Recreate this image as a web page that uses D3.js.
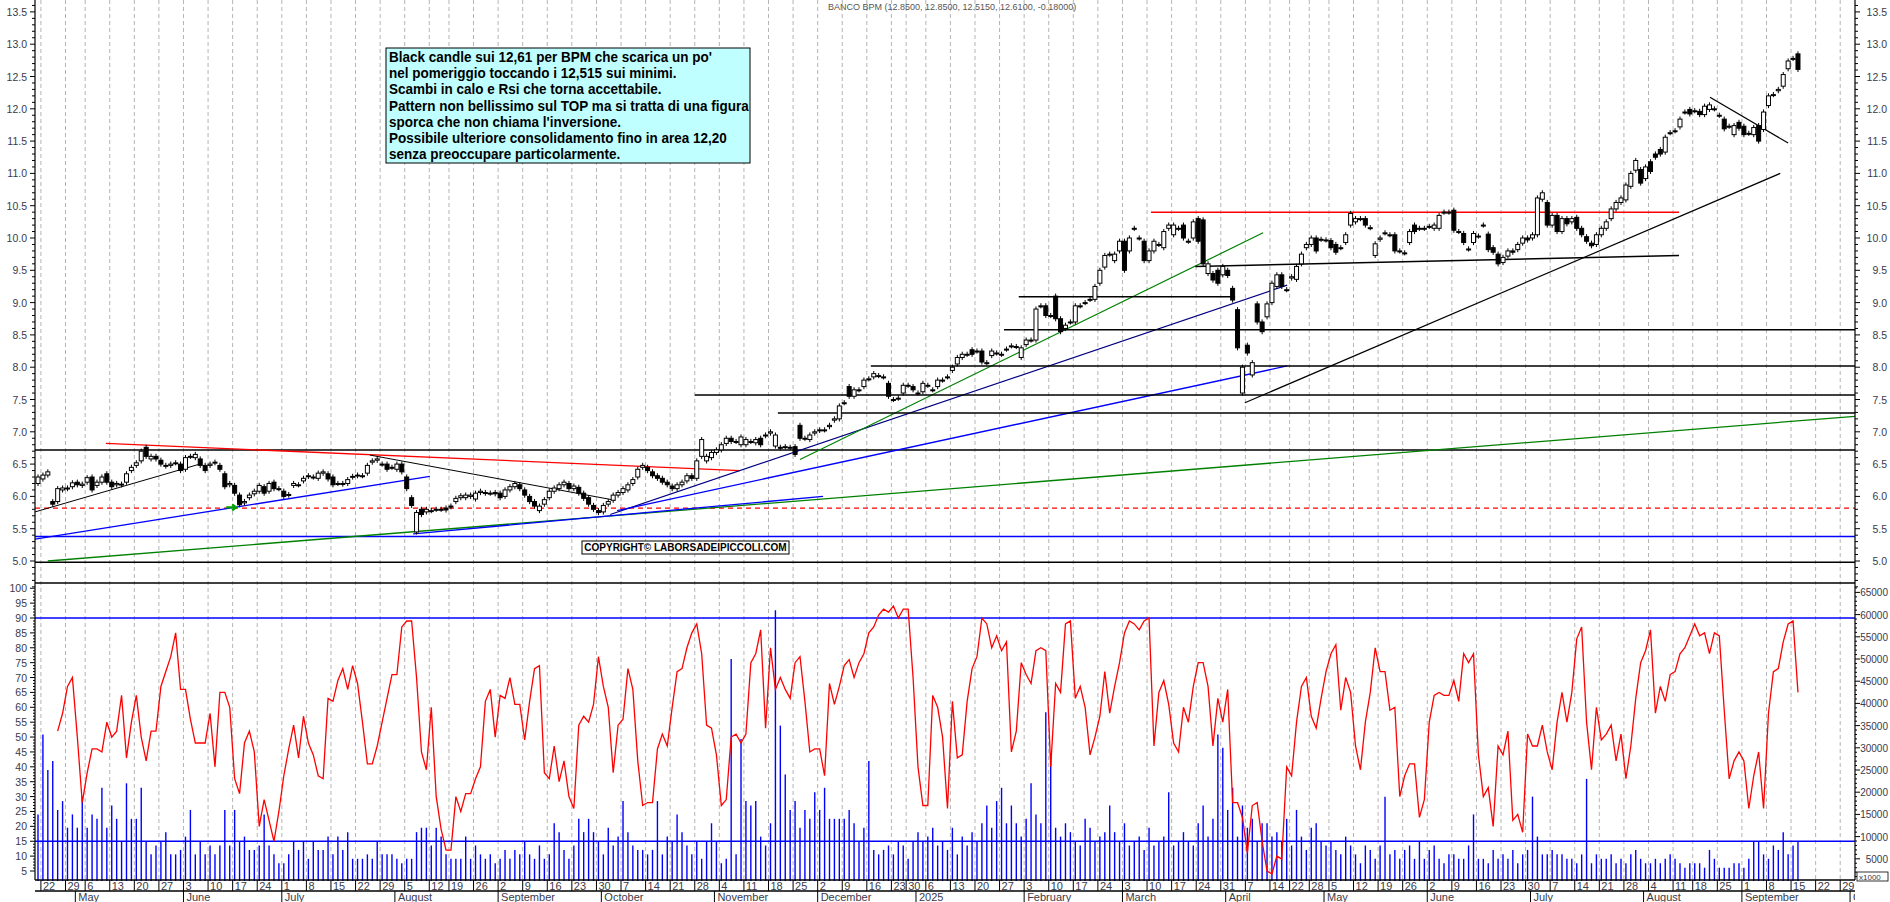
<!DOCTYPE html>
<html><head><meta charset="utf-8">
<script src="https://cdn.jsdelivr.net/npm/d3@7/dist/d3.min.js"></script>
<style>body{margin:0;background:#fff}svg{display:block}</style>
</head><body>
<svg id="c" width="1890" height="902"></svg>
<script>
const title = "BANCO BPM (12.8500, 12.8500, 12.5150, 12.6100, -0.18000)";
const note = ["Black candle sui 12,61 per BPM che scarica un po'",
"nel pomeriggio toccando i 12,515 sui minimi.",
"Scambi in calo e Rsi che torna accettabile.",
"Pattern non bellissimo sul TOP ma si tratta di una figura",
"sporca che non chiama l'inversione.",
"Possibile ulteriore consolidamento fino in area 12,20",
"senza preoccupare particolarmente."];
const copyright = "COPYRIGHT© LABORSADEIPICCOLI.COM";
const lastDate = "2025-09-16";
const holidays = ["2024-05-01","2024-08-15","2024-12-25","2024-12-26","2025-01-01","2025-04-18","2025-04-21","2025-05-01","2025-08-15"];
const monthNames = ["January","February","March","April","May","June","July","August","September","October","November","December"];

const opens = [
6.20,6.27,6.33,5.92,5.92,6.10,6.12,6.15,6.22,6.17,6.22,6.30,6.17,6.22,6.35,6.22,6.18,6.18,6.22,6.40,
6.48,6.55,6.76,6.58,6.62,6.56,6.47,6.48,6.52,6.50,6.42,6.62,6.60,6.58,6.48,6.48,6.52,6.48,6.35,6.18,
6.17,6.02,5.90,5.98,6.04,6.08,6.15,6.08,6.22,6.12,6.08,6.02,6.17,6.18,6.24,6.31,6.30,6.28,6.36,6.35,
6.30,6.20,6.19,6.20,6.30,6.32,6.32,6.36,6.53,6.56,6.50,6.50,6.45,6.42,6.50,6.30,5.98,5.45,5.80,5.76,
5.78,5.80,5.80,5.82,5.85,5.92,5.98,5.98,6.00,5.96,6.06,6.06,6.05,6.06,6.05,
6.00,6.10,6.15,6.18,6.10,6.00,5.92,5.78,5.88,5.98,6.08,6.12,6.18,6.20,6.12,6.14,6.05,5.98,5.86,5.78,
5.76,5.88,5.94,6.02,6.06,6.10,6.20,6.30,6.45,6.45,6.38,6.32,6.28,6.22,6.16,6.12,6.18,6.24,6.32,6.28,
6.62,6.55,6.60,6.68,6.72,6.82,6.90,6.85,
6.80,6.80,6.85,6.83,6.90,6.94,6.98,6.78,6.76,6.77,6.76,6.77,7.10,6.90,6.88,6.98,7.02,7.03,7.08,7.18,
7.20,7.45,7.70,7.55,7.65,7.70,7.82,7.85,7.87,7.85,7.75,7.50,7.52,7.60,7.72,7.70,7.60,7.62,7.72,7.65,
7.70,7.80,7.85,7.95,8.05,8.15,8.20,8.27,8.25,8.25,8.07,8.18,8.22,8.20,8.28,8.33,8.32,8.15,8.35,8.42,
8.42,8.95,8.95,8.80,9.10,8.75,8.60,8.70,8.70,8.95,9.00,9.05,9.05,9.30,9.55,9.75,9.65,9.80,9.95,9.80,
10.15,10.00,9.95,9.65,9.80,9.90,9.85,10.15,10.05,10.15,10.20,9.95,10.00,10.30,10.28,
9.45,9.45,9.50,9.43,9.50,9.22,8.89,7.60,8.34,7.88,8.98,8.70,8.78,9.00,9.25,9.43,9.20,9.38,9.36,9.60,
9.85,9.90,10.00,9.98,9.97,9.96,9.90,9.85,9.93,10.20,10.25,10.30,10.30,10.16,9.73,9.98,10.08,10.05,10.05,9.80,
9.77,9.93,10.20,10.15,10.15,10.18,10.15,10.15,10.40,10.40,10.43,10.10,10.07,9.83,9.93,10.03,10.20,10.06,9.85,9.75,
9.62,9.72,9.80,9.82,9.92,10.00,10.00,10.05,10.60,10.55,10.20,10.35,10.10,10.30,10.25,10.32,10.15,10.02,9.92,9.90,
10.05,10.15,10.30,10.45,10.55,
10.59,10.80,11.05,11.06,10.92,11.18,11.30,11.37,11.33,11.63,11.66,11.72,11.95,11.99,11.97,11.96,11.91,11.99,12.00,11.90,
11.84,11.73,11.60,11.79,11.73,11.62,11.60,11.74,11.68,12.05,12.22,12.28,12.35,12.62,12.78,12.85];

const closes = [
6.30,6.33,6.38,5.88,6.12,6.13,6.13,6.21,6.18,6.19,6.29,6.10,6.22,6.30,6.22,6.15,6.20,6.19,6.35,6.45,
6.52,6.70,6.62,6.62,6.58,6.50,6.48,6.50,6.52,6.40,6.60,6.62,6.65,6.48,6.40,6.50,6.53,6.42,6.15,6.20,
6.05,5.87,5.92,6.02,6.08,6.17,6.05,6.20,6.12,6.12,6.00,6.03,6.20,6.18,6.28,6.32,6.30,6.36,6.38,6.27,
6.18,6.20,6.20,6.26,6.31,6.33,6.32,6.48,6.55,6.58,6.50,6.42,6.45,6.50,6.38,6.12,5.86,5.75,5.72,5.80,
5.78,5.80,5.80,5.79,5.84,5.97,6.01,6.02,6.02,6.05,6.08,6.05,6.05,6.04,5.98,
6.10,6.15,6.20,6.12,6.02,5.92,5.85,5.85,5.95,6.08,6.13,6.18,6.22,6.12,6.16,6.05,5.97,5.88,5.80,5.75,
5.86,5.92,6.02,6.06,6.12,6.18,6.26,6.42,6.48,6.40,6.32,6.28,6.22,6.18,6.12,6.18,6.22,6.32,6.28,6.55,
6.88,6.62,6.68,6.72,6.80,6.90,6.85,6.85,
6.92,6.88,6.85,6.88,6.80,6.95,7.00,6.95,6.75,6.77,6.76,6.65,6.90,6.90,6.95,7.00,7.03,7.03,7.10,7.20,
7.40,7.45,7.55,7.65,7.65,7.80,7.82,7.90,7.87,7.85,7.55,7.50,7.52,7.72,7.72,7.65,7.60,7.75,7.72,7.65,
7.80,7.80,7.85,8.00,8.15,8.20,8.20,8.20,8.25,8.08,8.07,8.25,8.22,8.20,8.28,8.33,8.32,8.30,8.42,8.42,
8.90,8.95,8.80,8.80,8.75,8.55,8.65,8.70,8.95,8.95,9.00,9.05,9.25,9.50,9.73,9.75,9.75,9.95,9.50,10.00,
10.15,10.00,9.65,9.80,9.95,9.90,10.10,10.20,10.20,10.15,10.00,9.95,10.25,9.95,9.60,
9.60,9.35,9.30,9.56,9.42,9.04,8.30,8.00,8.22,8.07,8.70,8.55,8.98,9.30,9.43,9.25,9.20,9.40,9.56,9.75,
9.90,10.00,9.80,9.98,9.97,9.85,9.78,9.85,10.05,10.38,10.30,10.30,10.20,10.16,9.91,10.00,10.08,10.05,9.80,9.80,
9.77,10.10,10.10,10.15,10.15,10.18,10.20,10.35,10.40,10.40,10.12,10.10,9.93,9.83,10.07,10.03,10.20,9.82,9.78,9.60,
9.70,9.80,9.78,9.90,10.00,9.97,10.05,10.62,10.70,10.20,10.35,10.10,10.30,10.22,10.30,10.15,10.05,9.95,9.88,10.05,
10.15,10.25,10.45,10.55,10.62,
10.82,11.00,11.20,10.85,11.10,11.03,11.25,11.30,11.56,11.63,11.66,11.84,11.95,11.92,11.97,11.91,12.04,12.06,12.00,11.90,
11.69,11.73,11.74,11.70,11.60,11.62,11.71,11.50,11.95,12.20,12.22,12.30,12.53,12.74,12.78,12.61];

const rsi = [
52,58,67,70,50,28,38,46,46,45,55,50,52,64,43,55,64,50,42,52,
52,67,72,77,85,66,66,56,48,48,48,58,40,65,65,60,36,31,48,52,
45,20,29,22,15,25,37,46,54,43,57,48,44,37,36,63,62,69,73,66,
74,68,55,41,41,47,55,63,71,71,87,89,89,70,45,39,60,30,19,12,
12,30,25,31,31,36,40,62,66,50,64,63,70,61,61,49,62,73,74,38,
36,47,35,42,30,26,54,57,55,61,77,67,60,38,54,56,73,66,42,27,
28,28,46,51,47,60,72,73,80,85,88,78,54,53,44,27,29,50,51,48,
51,75,78,86,53,80,66,70,66,63,75,77,62,45,46,46,37,68,61,67,
74,76,70,75,78,85,87,91,93,92,94,90,93,93,
70,40,27,27,64,60,50,26,62,43,44,62,73,77,90,88,80,84,79,82,
45,52,75,71,68,79,80,79,40,68,65,88,89,63,67,60,44,50,57,72,
58,67,75,85,89,88,86,89,90,47,65,69,61,48,45,60,55,67,75,75,
67,47,63,55,66,28,28,23,11,27,28,15,5,4,10,9,40,37,55,67,
70,57,53,63,72,78,81,59,70,65,47,39,55,65,80,72,72,59,60,30,
37,41,41,23,29,55,64,65,64,64,69,62,78,75,78,44,30,33,20,47,
44,52,22,24,18,51,47,47,54,45,39,55,65,55,65,83,87,55,39,60,
49,51,54,42,51,36,47,63,75,79,86,58,67,62,71,72,78,80,84,88,
84,85,78,85,84,59,36,42,45,42,26,37,45,26,58,72,73,82,88,89,65];

const volumeK = [
15,33,25,27,16,18,12,15,12,19,12,15,14,21,12,17,14,9,22,14,
14,21,9,6,8,9,11,6,6,7,10,16,6,9,6,8,6,8,16,8,
16,9,10,7,7,8,15,8,6,4,4,6,9,7,9,5,9,7,7,10,
6,10,7,11,5,5,5,6,5,9,6,6,6,5,4,5,5,11,12,12,
8,12,10,6,5,5,5,10,5,8,6,5,6,4,5,7,5,7,6,9,
6,5,8,5,6,13,11,7,5,8,14,11,14,11,9,6,12,8,10,18,
11,8,7,7,6,7,18,6,10,9,15,11,8,6,9,5,9,13,9,4,
5,50,6,32,18,17,18,10,8,13,61,35,24,16,18,12,16,14,20,16,
21,14,14,14,14,16,13,9,12,27,7,6,7,8,6,9,8,5,9,11,
9,10,12,8,9,7,12,6,10,8,11,9,13,17,12,18,21,13,17,13,
10,14,22,15,13,38,28,12,10,13,11,9,8,14,12,9,10,11,17,11,
9,13,8,9,10,7,12,8,9,10,20,8,9,11,9,8,13,17,10,14,
33,30,16,21,10,17,12,14,9,13,13,10,11,9,14,8,16,10,7,12,
13,9,8,9,7,6,10,8,6,4,8,7,5,8,19,6,7,5,7,8,
5,9,5,7,8,5,4,6,6,5,5,8,15,5,5,4,7,5,6,5,
7,4,6,7,19,10,6,6,7,6,6,5,5,4,6,23,4,6,5,5,
6,4,5,4,6,7,5,4,4,5,4,5,6,5,4,3,4,4,4,3,
7,5,3,3,3,4,4,3,5,9,9,6,5,8,7,11,6,8,9];

const fullLines = [[6.72,"#000",1.5,null],[4.98,"#000",1.5,null],[5.38,"#0000ff",1.5,null],[5.82,"#ff0000",1.2,"5,4"]];
const trendLines = [
[13.8,6.82,142.8,6.40,"#ff0000",1.3],
[-0.6,5.76,32.9,6.50,"#000",1],
[-0.6,5.34,79.7,6.31,"#0000ff",1.3],
[67.5,6.64,117.4,5.94,"#000",1],
[2.0,5.0,369.6,7.24,"#008000",1.3],
[76.3,5.42,159.7,6.0,"#0000ff",1.3],
[116.4,5.72,254.1,9.27,"#000080",1.2],
[117.8,5.78,254.1,8.02,"#0000ff",1.4],
[155,6.57,249.2,10.08,"#008000",1.2],
[150.5,7.29,369.6,7.29,"#000",1.5],
[133.6,7.57,369.6,7.57,"#000",1.5],
[169.4,8.02,369.6,8.02,"#000",1.5],
[196.5,8.58,369.6,8.58,"#000",1.5],
[199.5,9.09,243.5,9.09,"#000",1.5],
[235.4,9.56,333.8,9.73,"#000",1.5],
[226.4,10.40,333.8,10.40,"#ff0000",1.5],
[245.5,7.45,354.4,11.0,"#000",1.2],
[340.1,12.18,356,11.47,"#000",1.2]];

const N = closes.length;
const L = 35, R = 1855;
const x = d3.scaleLinear().domain([0, N - 1 + 11.6]).range([38, R]);
const yP = d3.scaleLinear().domain([5, 13]).range([561, 44.2]);
const yO = d3.scaleLinear().domain([90, 5]).range([618, 871]);
const yV = d3.scaleLinear().domain([0, 65000]).range([881, 592.4]);

const hol = new Set(holidays);
const fmt = d3.timeFormat("%Y-%m-%d");
const isTrading = d => d.getDay() > 0 && d.getDay() < 6 && !hol.has(fmt(d));
let days = [];
let d = d3.timeParse("%Y-%m-%d")(lastDate);
while (days.length < N) { if (isTrading(d)) days.unshift(new Date(d)); d = d3.timeDay.offset(d, -1); }
d = d3.timeDay.offset(days[N - 1], 1);
while (days.length < N + 14) { if (isTrading(d)) days.push(new Date(d)); d = d3.timeDay.offset(d, 1); }

const svg = d3.select("#c");
svg.append("defs").append("clipPath").attr("id", "plot").append("rect").attr("x", L).attr("y", 0).attr("width", R - L).attr("height", 902);
svg.append("defs").append("clipPath").attr("id", "price").append("rect").attr("x", L).attr("y", 0).attr("width", R - L).attr("height", 583);
const gAll = svg.append("g").attr("clip-path", "url(#plot)");

const weekIdx = [], monthIdx = [];
days.forEach((dd, i) => {
  if (i === 0) return;
  if (+d3.timeMonday.floor(dd) !== +d3.timeMonday.floor(days[i - 1])) weekIdx.push(i);
  if (dd.getMonth() !== days[i - 1].getMonth()) monthIdx.push(i);
});
const labelFont = "Liberation Sans, Arial, sans-serif";
const axisCol = "#3a3a4a";

gAll.selectAll(".grid").data(weekIdx).join("line")
  .attr("x1", i => x(i) - 2).attr("x2", i => x(i) - 2).attr("y1", 0).attr("y2", 880)
  .attr("stroke", "#b4b4b4").attr("stroke-dasharray", "4,3").attr("stroke-width", 1);

const gp = svg.append("g").attr("clip-path", "url(#price)");
gp.selectAll(".fl").data(fullLines).join("line")
  .attr("x1", L).attr("x2", R).attr("y1", d => yP(d[0])).attr("y2", d => yP(d[0]))
  .attr("stroke", d => d[1]).attr("stroke-width", d => d[2]).attr("stroke-dasharray", d => d[3]);
gp.selectAll(".tl").data(trendLines).join("line")
  .attr("x1", d => x(d[0])).attr("y1", d => yP(d[1])).attr("x2", d => x(d[2])).attr("y2", d => yP(d[3]))
  .attr("stroke", d => d[4]).attr("stroke-width", d => d[5]);
const ai = 39.5, ap = 5.83;
gp.append("path").attr("d", `M${x(ai)-6},${yP(ap)}L${x(ai)+3},${yP(ap)}M${x(ai)},${yP(ap)-3}L${x(ai)+4},${yP(ap)}L${x(ai)},${yP(ap)+3}`)
  .attr("stroke", "#00a000").attr("stroke-width", 2.2).attr("fill", "none");

const candles = gp.selectAll(".cd").data(closes.map((c, i) => ({ i, o: opens[i], c }))).join("g");
candles.append("line").attr("x1", d => x(d.i)).attr("x2", d => x(d.i))
  .attr("y1", d => yP(Math.max(d.o, d.c) + 0.04)).attr("y2", d => yP(Math.min(d.o, d.c) - 0.04))
  .attr("stroke", "#000").attr("stroke-width", 1);
candles.append("rect").attr("x", d => x(d.i) - 2).attr("width", 4)
  .attr("y", d => yP(Math.max(d.o, d.c))).attr("height", d => Math.max(1, Math.abs(yP(d.o) - yP(d.c))))
  .attr("fill", d => d.c < d.o ? "#000" : "#fff").attr("stroke", "#000").attr("stroke-width", 1);

svg.append("line").attr("x1", L).attr("x2", R).attr("y1", 583).attr("y2", 583).attr("stroke", "#000").attr("stroke-width", 1.5);

const vOff = N - volumeK.length;
gAll.selectAll(".vb").data(volumeK).join("line")
  .attr("x1", (v, i) => x(i + vOff)).attr("x2", (v, i) => x(i + vOff))
  .attr("y1", yV(0)).attr("y2", v => yV(v * 1000)).attr("stroke", "#0000ff").attr("stroke-width", 1.4);
[90, 15].forEach(v => gAll.append("line").attr("x1", L).attr("x2", R).attr("y1", yO(v)).attr("y2", yO(v)).attr("stroke", "#0000ff").attr("stroke-width", 1.6));
const rOff = N - rsi.length;
gAll.append("path").datum(rsi).attr("fill", "none").attr("stroke", "#ff0000").attr("stroke-width", 1.3)
  .attr("d", d3.line().x((v, i) => x(i + rOff)).y(v => yO(v)));

[L, R].forEach(xx => svg.append("line").attr("x1", xx).attr("x2", xx).attr("y1", 0).attr("y2", 880).attr("stroke", "#000").attr("stroke-width", 1.2));
svg.append("line").attr("x1", L).attr("x2", R).attr("y1", 880).attr("y2", 880).attr("stroke", "#000").attr("stroke-width", 1.5);
svg.append("line").attr("x1", L).attr("x2", R).attr("y1", 891).attr("y2", 891).attr("stroke", "#000").attr("stroke-width", 1.5);

const pMinor = d3.range(4.6, 13.85, 0.1);
pMinor.forEach(v => {
  const yy = yP(v), major = Math.abs(v * 2 - Math.round(v * 2)) < 1e-6;
  svg.append("line").attr("x1", L - (major ? 5 : 3)).attr("x2", L).attr("y1", yy).attr("y2", yy).attr("stroke", "#000");
  svg.append("line").attr("x1", R).attr("x2", R + (major ? 5 : 3)).attr("y1", yy).attr("y2", yy).attr("stroke", "#000");
});
const pMajor = d3.range(5, 13.51, 0.5);
svg.selectAll(".pl").data(pMajor).join("text").attr("x", 27).attr("y", v => yP(v) + 4).attr("text-anchor", "end")
  .attr("font-family", labelFont).attr("font-size", 10.5).attr("fill", axisCol).text(v => v.toFixed(1));
svg.selectAll(".pr").data(pMajor).join("text").attr("x", 1887).attr("y", v => yP(v) + 4).attr("text-anchor", "end")
  .attr("font-family", labelFont).attr("font-size", 10.5).attr("fill", axisCol).text(v => v.toFixed(1));
d3.range(0, 101, 1).forEach(v => { if (v < 5) return; const yy = yO(v);
  svg.append("line").attr("x1", L - (v % 5 === 0 ? 5 : 2)).attr("x2", L).attr("y1", yy).attr("y2", yy).attr("stroke", "#000"); });
svg.selectAll(".ol").data(d3.range(5, 101, 5)).join("text").attr("x", 27).attr("y", v => yO(v) + 4).attr("text-anchor", "end")
  .attr("font-family", labelFont).attr("font-size", 10.5).attr("fill", axisCol).text(v => v);
d3.range(1000, 66001, 1000).forEach(v => { const yy = yV(v);
  svg.append("line").attr("x1", R).attr("x2", R + (v % 5000 === 0 ? 5 : 2)).attr("y1", yy).attr("y2", yy).attr("stroke", "#000"); });
svg.selectAll(".vl").data(d3.range(5000, 65001, 5000)).join("text").attr("x", 1888).attr("y", v => yV(v) + 4).attr("text-anchor", "end")
  .attr("font-family", labelFont).attr("font-size", 10).attr("fill", axisCol).text(v => v);
svg.append("rect").attr("x", 1857).attr("y", 872).attr("width", 31).attr("height", 9).attr("fill", "#fff").attr("stroke", "#000").attr("stroke-width", 0.8);
svg.append("text").attr("x", 1859).attr("y", 880).attr("font-family", labelFont).attr("font-size", 8).attr("fill", axisCol).text("x1000");

const gd = svg.append("g").attr("clip-path", "url(#plot)");
weekIdx.forEach(i => {
  gd.append("line").attr("x1", x(i) - 2).attr("x2", x(i) - 2).attr("y1", 880).attr("y2", 891).attr("stroke", "#000");
  gd.append("text").attr("x", x(i)).attr("y", 889.5).attr("font-family", labelFont).attr("font-size", 11).attr("fill", axisCol).text(days[i].getDate());
});
monthIdx.forEach(i => {
  gd.append("line").attr("x1", x(i) - 2).attr("x2", x(i) - 2).attr("y1", 891).attr("y2", 902).attr("stroke", "#000");
  gd.append("text").attr("x", x(i) + 1).attr("y", 901).attr("font-family", labelFont).attr("font-size", 11).attr("fill", axisCol)
    .text(days[i].getMonth() === 0 ? days[i].getFullYear() : monthNames[days[i].getMonth()]);
});

svg.append("text").attr("x", 828).attr("y", 10).attr("font-family", labelFont).attr("font-size", 9).attr("fill", "#555").text(title);

svg.append("rect").attr("x", 386).attr("y", 48).attr("width", 364).attr("height", 115).attr("fill", "#c0ffff").attr("stroke", "#000").attr("stroke-width", 1);
const ng = svg.append("g");
const nt = ng.selectAll(".nt").data(note).join("text").attr("x", 0).attr("y", (t, i) => i * 16.2)
  .attr("font-family", "Liberation Sans Narrow, Arial Narrow, Liberation Sans, sans-serif").attr("font-weight", "bold").attr("font-size", 15).attr("fill", "#000").text(t => t);
let maxW = 0; nt.each(function () { maxW = Math.max(maxW, this.getComputedTextLength()); });
ng.attr("transform", `translate(389,62) scale(${Math.min(1, 360 / maxW)},1)`);

svg.append("rect").attr("x", 582).attr("y", 541).attr("width", 207).attr("height", 13).attr("fill", "#fff").attr("stroke", "#000").attr("stroke-width", 1);
svg.append("text").attr("x", 685.5).attr("y", 551).attr("text-anchor", "middle").attr("font-family", labelFont).attr("font-weight", "bold").attr("font-size", 10).attr("fill", "#000").text(copyright);
</script>
</body></html>
